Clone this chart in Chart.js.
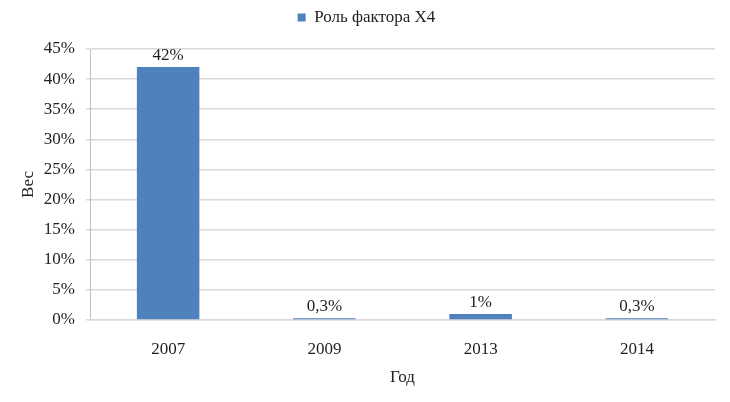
<!DOCTYPE html>
<html>
<head>
<meta charset="utf-8">
<script src="https://cdn.jsdelivr.net/npm/chart.js@4/dist/chart.umd.min.js"></script>
<style>
  html, body { margin: 0; padding: 0; background: #fff; }
  #wrap { width: 730px; height: 402px; }
</style>
</head>
<body>
<div id="wrap"><canvas id="barGraph" width="730" height="402"></canvas></div>
<script>
// chart data
const years = ['2007', '2009', '2013', '2014'];
const factorValues = [42, 0.3, 1, 0.3];
const valueLabels = ['42%', '0,3%', '1%', '0,3%'];
const seriesName = 'Роль фактора X4';

const textColor = '#1f1f1f';
const fontFamily = '"Liberation Serif", "Times New Roman", serif';
const fontSize = 17;

// draws the value labels above each bar
const barLabels = {
    id: 'barLabels',
    afterDatasetsDraw(chart) {
        const ctx = chart.ctx;
        const meta = chart.getDatasetMeta(0);
        ctx.save();
        ctx.font = fontSize + 'px ' + fontFamily;
        ctx.fillStyle = textColor;
        ctx.textAlign = 'center';
        ctx.textBaseline = 'bottom';
        meta.data.forEach((bar, i) => {
            ctx.fillText(valueLabels[i], bar.x, bar.y - 3);
        });
        ctx.restore();
    }
};

// a bit more room under the legend
const legendGap = {
    id: 'legendGap',
    beforeInit(chart) {
        const fit = chart.legend.fit;
        chart.legend.fit = function () {
            fit.bind(chart.legend)();
            this.height += 13;
        };
    }
};

const ctx = document.getElementById('barGraph').getContext('2d');
new Chart(ctx, {
    type: 'bar',
    data: {
        labels: years,
        datasets: [{
            label: seriesName,
            data: factorValues,
            backgroundColor: '#4f81bd',
            borderWidth: 0,
            barPercentage: 0.4,
            categoryPercentage: 1
        }]
    },
    options: {
        responsive: false,
        animation: false,
        layout: { padding: { left: 18, right: 15, top: 1, bottom: 14 } },
        plugins: {
            legend: {
                position: 'top',
                labels: {
                    font: { family: fontFamily, size: fontSize },
                    color: textColor,
                    boxWidth: 8,
                    boxHeight: 8,
                    padding: 8
                }
            },
            tooltip: { enabled: false }
        },
        scales: {
            y: {
                min: 0,
                max: 45,
                afterFit(scale) { scale.width = 72; },
                ticks: {
                    stepSize: 5,
                    callback: v => v + '%',
                    font: { family: fontFamily, size: fontSize },
                    color: textColor,
                    padding: 11
                },
                grid: { color: '#d9d9d9', lineWidth: 1.5, tickLength: 4 },
                border: { color: '#bfbfbf', width: 1 },
                title: {
                    display: true,
                    text: 'Вес',
                    font: { family: fontFamily, size: fontSize },
                    color: textColor,
                    padding: { top: 0, bottom: 6 }
                }
            },
            x: {
                afterFit(scale) { scale.height = 68; },
                ticks: {
                    font: { family: fontFamily, size: fontSize },
                    color: textColor,
                    padding: 11
                },
                grid: { display: false },
                border: { color: '#d9d9d9', width: 1.5 },
                title: {
                    display: true,
                    text: 'Год',
                    font: { family: fontFamily, size: fontSize },
                    color: textColor,
                    padding: { top: 0, bottom: 0 }
                }
            }
        }
    },
    plugins: [barLabels, legendGap]
});
</script>
</body>
</html>
